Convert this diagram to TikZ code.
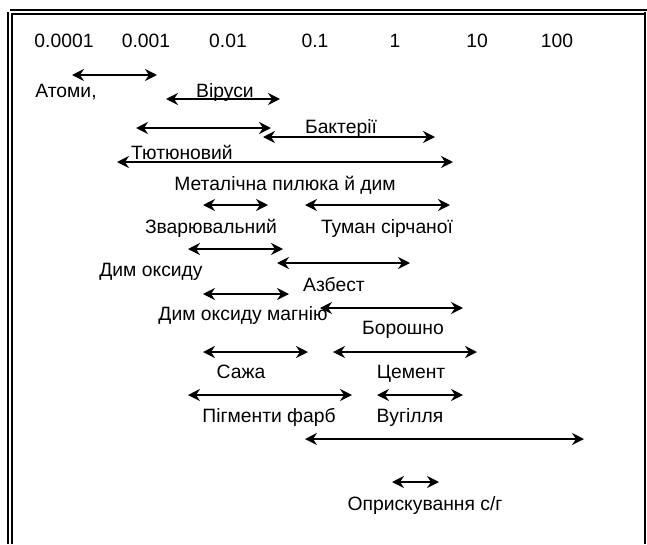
\documentclass[tikz,border=0pt]{standalone}
\usepackage{fontspec}
\setmainfont{Liberation Sans}
\usetikzlibrary{arrows.meta}

\begin{document}
\begin{tikzpicture}[x=1pt, y=-1pt, every node/.style={font=\fontsize{19.3}{22}\selectfont, inner sep=0pt, anchor=base},
    sizespan/.style={{Stealth[length=12pt,width=12pt,inset=4pt]}-{Stealth[length=12pt,width=12pt,inset=4pt]}, line width=2.6pt},
    rule/.style={line width=2.5pt}, thinrule/.style={line width=1.2pt}]
          \useasboundingbox (0,0) rectangle (647,544);
          % frame
          \draw [rule] (8,12) -- (8,544);
          \draw [rule] (10,10) -- (647,10);
          \draw [thinrule] (12,544) -- (12,14) -- (646,14);
          \draw [thinrule] (645,12) -- (645,544);
          % scale
          \node (s1) at (64,47) {0.0001};
          \node (s2) at (146,47) {0.001};
          \node (s3) at (228,47) {0.01};
          \node (s4) at (315,47) {0.1};
          \node (s5) at (395,47) {1};
          \node (s6) at (477,47) {10};
          \node (s7) at (557,47) {100};
          % labels
          \node (atoms) at (66,97) {Атоми,};
          \node (vir) at (225,97) {Віруси};
          \node (bact) at (341,133) {Бактерії};
          \node (tob) at (182,159) {Тютюновий};
          \node (met) at (285,190) {Металічна пилюка й дим};
          \node (weld) at (211,233) {Зварювальний};
          \node (fog) at (387,233) {Туман сірчаної};
          \node (oxs) at (151,276) {Дим оксиду};
          \node (asb) at (334,291) {Азбест};
          \node (mgo) at (243,320) {Дим оксиду магнію};
          \node (flour) at (403,334) {Борошно};
          \node (soot) at (241,378) {Сажа};
          \node (cem) at (411,378) {Цемент};
          \node (pig) at (269,422) {Пігменти фарб};
          \node (coal) at (410,422) {Вугілля};
          \node (spray) at (425,510) {Оприскування с/г};
          % span ends
          \coordinate (atomsL) at (72,75);
          \coordinate (atomsR) at (157,75);
          \coordinate (virL) at (166,99);
          \coordinate (virR) at (280,99);
          \coordinate (tobL) at (136,128);
          \coordinate (tobR) at (271,128);
          \coordinate (bactL) at (263,137);
          \coordinate (bactR) at (435,137);
          \coordinate (metL) at (117,162);
          \coordinate (metR) at (453,162);
          \coordinate (weldL) at (203,205);
          \coordinate (weldR) at (268,205);
          \coordinate (fogL) at (305,205);
          \coordinate (fogR) at (450,205);
          \coordinate (oxsL) at (188,249);
          \coordinate (oxsR) at (283,249);
          \coordinate (asbL) at (277,263);
          \coordinate (asbR) at (410,263);
          \coordinate (mgoL) at (203,294);
          \coordinate (mgoR) at (289,294);
          \coordinate (flourL) at (320,308);
          \coordinate (flourR) at (463,308);
          \coordinate (sootL) at (203,352);
          \coordinate (sootR) at (308,352);
          \coordinate (cemL) at (333,352);
          \coordinate (cemR) at (477,352);
          \coordinate (pigL) at (188,395);
          \coordinate (pigR) at (352,395);
          \coordinate (coalL) at (377,395);
          \coordinate (coalR) at (463,395);
          \coordinate (longL) at (305,439);
          \coordinate (longR) at (584,439);
          \coordinate (sprayL) at (392,482);
          \coordinate (sprayR) at (439,482);
          % spans
          \draw [sizespan] (atomsL) -- (atomsR);
          \draw [sizespan] (virL) -- (virR);
          \draw [sizespan] (tobL) -- (tobR);
          \draw [sizespan] (bactL) -- (bactR);
          \draw [sizespan] (metL) -- (metR);
          \draw [sizespan] (weldL) -- (weldR);
          \draw [sizespan] (fogL) -- (fogR);
          \draw [sizespan] (oxsL) -- (oxsR);
          \draw [sizespan] (asbL) -- (asbR);
          \draw [sizespan] (mgoL) -- (mgoR);
          \draw [sizespan] (flourL) -- (flourR);
          \draw [sizespan] (sootL) -- (sootR);
          \draw [sizespan] (cemL) -- (cemR);
          \draw [sizespan] (pigL) -- (pigR);
          \draw [sizespan] (coalL) -- (coalR);
          \draw [sizespan] (longL) -- (longR);
          \draw [sizespan] (sprayL) -- (sprayR);
        \end{tikzpicture}
\end{document}
